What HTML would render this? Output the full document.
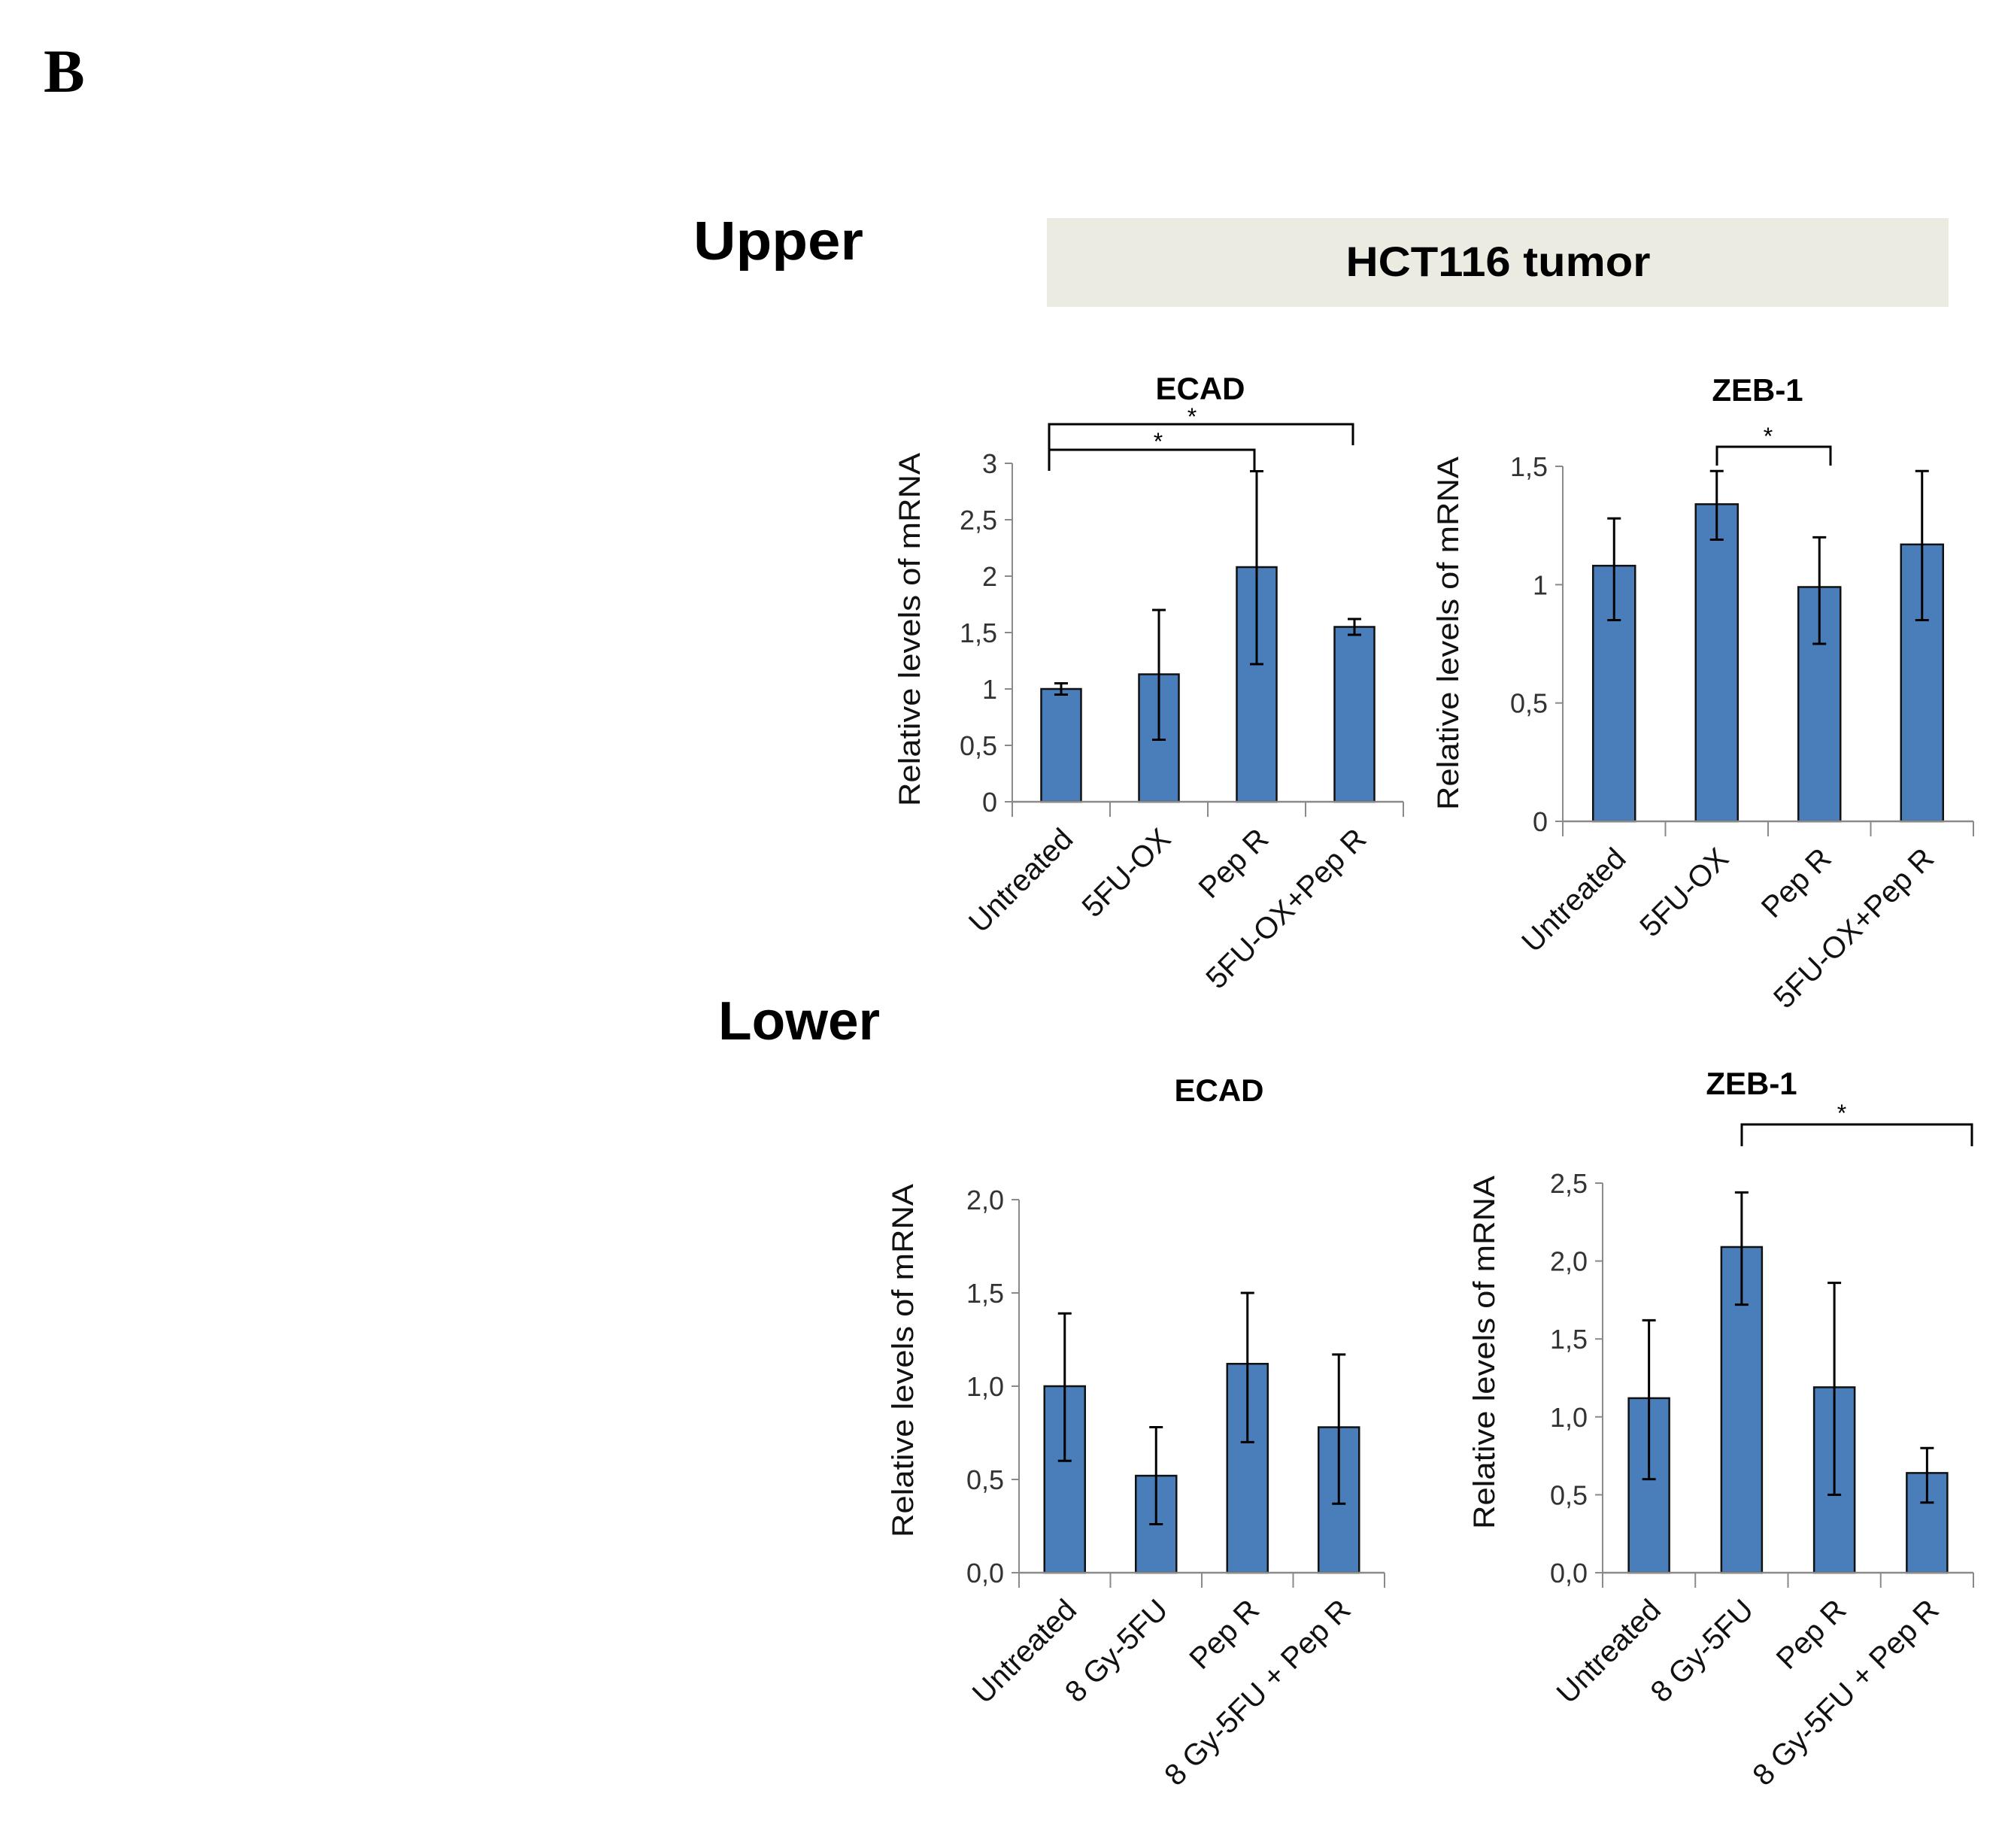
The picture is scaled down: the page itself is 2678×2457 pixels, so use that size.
<!DOCTYPE html>
<html><head><meta charset="utf-8"><style>
html,body{margin:0;padding:0;background:#fff;}
svg{display:block;}
text{font-family:"Liberation Sans",sans-serif;}
</style></head><body>
<svg id="fig" width="2678" height="2457" viewBox="0 0 2678 2457" xmlns="http://www.w3.org/2000/svg">
<text x="58" y="122" style="font-family:'Liberation Serif',serif" font-weight="bold" font-size="82">B</text>
<text x="922" y="345" font-size="72" font-weight="bold" textLength="226" lengthAdjust="spacingAndGlyphs">Upper</text>
<rect x="1392" y="290" width="1199" height="118" fill="#ecebe1"/>
<text x="1992" y="367" font-size="56" font-weight="bold" text-anchor="middle" textLength="405" lengthAdjust="spacingAndGlyphs">HCT116 tumor</text>
<text x="955" y="1382" font-size="72" font-weight="bold" textLength="215" lengthAdjust="spacingAndGlyphs">Lower</text>
<g id="charts"></g>
</svg>
<script>
const catsUpper = ["Untreated","5FU-OX","Pep R","5FU-OX+Pep R"];
const catsLower = ["Untreated","8 Gy-5FU","Pep R","8 Gy-5FU + Pep R"];
const ecadUpperVals = [1.0, 1.13, 2.08, 1.55];
const ecadUpperLo = [0.95, 0.55, 1.22, 1.48];
const ecadUpperHi = [1.05, 1.70, 2.93, 1.62];
const ecadUpperTicks = ["0","0,5","1","1,5","2","2,5","3"];
const zebUpperVals = [1.08, 1.34, 0.99, 1.17];
const zebUpperLo = [0.85, 1.19, 0.75, 0.85];
const zebUpperHi = [1.28, 1.48, 1.20, 1.48];
const zebUpperTicks = ["0","0,5","1","1,5"];
const ecadLowerVals = [1.0, 0.52, 1.12, 0.78];
const ecadLowerLo = [0.60, 0.26, 0.70, 0.37];
const ecadLowerHi = [1.39, 0.78, 1.50, 1.17];
const ecadLowerTicks = ["0,0","0,5","1,0","1,5","2,0"];
const zebLowerVals = [1.12, 2.09, 1.19, 0.64];
const zebLowerLo = [0.60, 1.72, 0.50, 0.45];
const zebLowerHi = [1.62, 2.44, 1.86, 0.80];
const zebLowerTicks = ["0,0","0,5","1,0","1,5","2,0","2,5"];

const NS = "http://www.w3.org/2000/svg";
const root = document.getElementById('charts');
function mk(tag, attrs, parent){const e=document.createElementNS(NS,tag);for(const k in attrs)e.setAttribute(k,attrs[k]);(parent||root).appendChild(e);return e;}

function chart(cfg){
  const g = mk('g',{});
  
  
  const n = cfg.cats.length;
  const yScale = v => cfg.y0 - (v/cfg.max)*(cfg.y0-cfg.yTop);
  const cw = (cfg.x1-cfg.x0)/n;
  const xc = i => cfg.x0 + cw*(i+0.5);
  const ya = mk('line',{x1:cfg.x0,y1:cfg.yTop,x2:cfg.x0,y2:cfg.y0,stroke:'#8a8a8a','stroke-width':2},g);
  
  
  cfg.ticks.forEach((t,i)=>{
    const v = cfg.max*i/(cfg.ticks.length-1);
    const y = yScale(v);
    mk('line',{x1:cfg.x0-10,y1:y,x2:cfg.x0,y2:y,stroke:'#8a8a8a','stroke-width':2},g);
    const tx = mk('text',{x:cfg.x0-20,y:y+13,'font-size':36,'text-anchor':'end',fill:'#333'},g);
    tx.textContent = t;
    
    
  });
  cfg.vals.forEach((v,i)=>{
    const b = mk('rect',{x:xc(i)-cfg.bw/2,y:yScale(v),width:cfg.bw,height:cfg.y0-yScale(v),fill:'#4a7ebb',stroke:'#111','stroke-width':2.5},g);
    
    
    const eb = mk('path',{d:`M${xc(i)},${yScale(cfg.lo[i])}V${yScale(cfg.hi[i])}M${xc(i)-9},${yScale(cfg.lo[i])}h18M${xc(i)-9},${yScale(cfg.hi[i])}h18`,stroke:'#000','stroke-width':3,fill:'none'},g);
    
    
  });
  const xa = mk('line',{x1:cfg.x0,y1:cfg.y0,x2:cfg.x1,y2:cfg.y0,stroke:'#8a8a8a','stroke-width':2.5},g);
  
  
  for(let i=0;i<=n;i++){const x=cfg.x0+cw*i;mk('line',{x1:x,y1:cfg.y0,x2:x,y2:cfg.y0+20,stroke:'#8a8a8a','stroke-width':2},g);}
  cfg.cats.forEach((c,i)=>{
    const ax = xc(i)+18, ay = cfg.y0+52;
    const t = mk('text',{x:ax,y:ay,'font-size':40,'text-anchor':'end',fill:'#111',transform:`rotate(-45 ${ax} ${ay})`},g);
    t.textContent = c;
    
    
  });
  const ti = mk('text',{x:cfg.titleX,y:cfg.titleY+15,'font-size':42,'font-weight':'bold','text-anchor':'middle'},g);
  ti.textContent = cfg.title;
  
  
  const yl = mk('text',{x:0,y:0,'font-size':40,'text-anchor':'middle',fill:'#111',textLength:470,lengthAdjust:'spacingAndGlyphs',transform:`translate(${cfg.ylx+14},${cfg.yly}) rotate(-90)`},g);
  yl.textContent = 'Relative levels of mRNA';
  
  
  (cfg.brackets||[]).forEach(br=>{
    const p = mk('path',{d:`M${br.x1},${br.d1}V${br.y}H${br.x2}V${br.d2}`,stroke:'#000','stroke-width':3,fill:'none'},g);
    
    
    const s = mk('text',{x:br.sx,y:br.sy+14,'font-size':32,'text-anchor':'middle'},g);
    s.textContent = '*';
    
    
  });
}

chart({name:'chart-upper-ecad',title:'ECAD',cats:catsUpper,vals:ecadUpperVals,lo:ecadUpperLo,hi:ecadUpperHi,ticks:ecadUpperTicks,max:3,
  x0:1346,x1:1866,y0:1066,yTop:616,bw:53,titleX:1596,titleY:516,ylx:1209,yly:837,
  brackets:[{x1:1395,x2:1799,y:564,d1:626,d2:592,sx:1585,sy:551},{x1:1395,x2:1668,y:598,d1:626,d2:626,sx:1540,sy:584}]});
chart({name:'chart-upper-zeb1',title:'ZEB-1',cats:catsUpper,vals:zebUpperVals,lo:zebUpperLo,hi:zebUpperHi,ticks:zebUpperTicks,max:1.5,
  x0:2078,x1:2624,y0:1092,yTop:620,bw:56,titleX:2337,titleY:518,ylx:1925,yly:842,
  brackets:[{x1:2283,x2:2434,y:594,d1:619,d2:619,sx:2351,sy:577}]});
chart({name:'chart-lower-ecad',title:'ECAD',cats:catsLower,vals:ecadLowerVals,lo:ecadLowerLo,hi:ecadLowerHi,ticks:ecadLowerTicks,max:2,
  x0:1355,x1:1841,y0:2091,yTop:1595,bw:54,titleX:1621,titleY:1449,ylx:1200,yly:1809});
chart({name:'chart-lower-zeb1',title:'ZEB-1',cats:catsLower,vals:zebLowerVals,lo:zebLowerLo,hi:zebLowerHi,ticks:zebLowerTicks,max:2.5,
  x0:2131,x1:2624,y0:2091,yTop:1573,bw:54,titleX:2329,titleY:1440,ylx:1973,yly:1798,
  brackets:[{x1:2316,x2:2622,y:1495,d1:1524,d2:1524,sx:2449,sy:1477}]});
</script>
</body></html>
